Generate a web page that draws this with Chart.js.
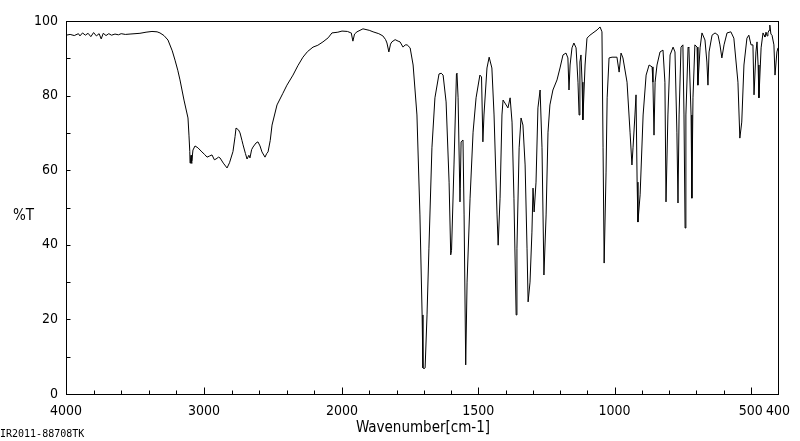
<!DOCTYPE html>
<html>
<head>
<meta charset="utf-8">
<script src="https://cdn.jsdelivr.net/npm/chart.js@4.4.1/dist/chart.umd.min.js"></script>
<style>
  html, body { margin: 0; padding: 0; background: #fff; }
  #irChart { display: block; }
</style>
</head>
<body>
<canvas id="irChart" width="800" height="441"></canvas>
<script>
// IR spectrum (%T vs wavenumber)
const wavenumbers = [
  4000, 3970, 3940, 3910, 3899, 3880, 3860, 3840, 3820, 3800, 3780, 3760, 3745, 3730, 3710, 3690, 3670, 3645, 3620, 3600,
  3570, 3536, 3500, 3464, 3420, 3377, 3340, 3319, 3290, 3261, 3230, 3210, 3190, 3174, 3145, 3116, 3109, 3103, 3101, 3097,
  3094, 3090, 3087, 3080, 3065, 3044, 3015, 2995, 2978, 2960, 2942, 2925, 2913, 2895, 2884, 2860, 2833, 2815, 2790, 2775,
  2768, 2750, 2739, 2725, 2717, 2700, 2688, 2675, 2667, 2655, 2645, 2623, 2609, 2594, 2580, 2558, 2545, 2536, 2520, 2507,
  2471, 2430, 2399, 2355, 2320, 2283, 2250, 2210, 2175, 2138, 2100, 2073, 2030, 2000, 1980, 1970, 1966, 1960, 1954, 1945,
  1923, 1900, 1886, 1865, 1850, 1840, 1835, 1828, 1822, 1817, 1805, 1794, 1787, 1776, 1768, 1761, 1750, 1739, 1725, 1714,
  1706, 1703, 1699, 1695, 1688, 1681, 1670, 1659, 1644, 1636, 1629, 1618, 1607, 1601, 1598, 1589, 1580, 1578, 1574, 1567,
  1566, 1563, 1556, 1552, 1546, 1541, 1530, 1519, 1508, 1494, 1488, 1483, 1479, 1468, 1460, 1450, 1442, 1431, 1427, 1420,
  1413, 1409, 1402, 1391, 1383, 1376, 1369, 1361, 1358, 1350, 1343, 1336, 1328, 1321, 1317, 1310, 1303, 1299, 1295, 1288,
  1281, 1273, 1266, 1259, 1251, 1244, 1237, 1226, 1211, 1200, 1189, 1178, 1171, 1167, 1163, 1156, 1149, 1141, 1134, 1130,
  1127, 1123, 1119, 1116, 1108, 1101, 1090, 1079, 1064, 1053, 1046, 1042, 1038, 1031, 1027, 1020, 1009, 991, 983, 976,
  969, 954, 943, 936, 932, 925, 921, 917, 914, 906, 895, 884, 873, 862, 859, 855, 851, 844, 833, 822,
  815, 811, 804, 796, 785, 778, 771, 767, 763, 756, 749, 745, 741, 738, 730, 727, 719, 716, 712, 705,
  697, 694, 686, 679, 668, 661, 657, 653, 642, 631, 620, 613, 606, 598, 587, 573, 562, 547, 540, 533,
  525, 514, 507, 499, 492, 488, 481, 477, 473, 470, 462, 455, 451, 448, 444, 440, 437, 433, 430, 426,
  422, 415, 411, 404, 400
]
const transmittance = [
  96.2, 96.4, 96.1, 96.6, 96.0, 96.8, 96.2, 96.7, 95.8, 96.9, 96.0, 96.6, 95.2, 96.7, 96.1, 96.6, 96.2, 96.5, 96.3, 96.6,
  96.4, 96.5, 96.6, 96.7, 97.0, 97.2, 97.1, 96.8, 96.1, 94.9, 92.0, 89.5, 86.8, 84.2, 78.8, 74.0, 69.4, 65.0, 61.9, 63.0,
  64.0, 61.8, 62.5, 65.4, 66.5, 66.0, 64.9, 64.2, 63.5, 63.8, 64.1, 62.8, 63.0, 63.5, 63.3, 61.9, 60.6, 62.0, 65.0, 69.0,
  71.3, 70.8, 70.0, 68.0, 66.8, 64.5, 63.0, 64.0, 63.3, 65.5, 66.2, 67.3, 67.6, 66.5, 64.9, 63.5, 64.5, 64.9, 68.0, 72.1,
  77.5, 80.5, 82.8, 85.5, 88.0, 90.3, 91.8, 93.0, 93.5, 94.4, 95.5, 96.8, 97.0, 97.3, 97.2, 96.9, 96.8, 94.6, 96.5, 97.1,
  97.9, 97.5, 97.1, 96.6, 96.0, 95.0, 94.1, 91.7, 93.8, 94.4, 95.0, 94.6, 94.4, 93.0, 93.6, 93.6, 92.8, 88.2, 74.8, 48.0,
  21.2, 7.0, 6.8, 7.0, 21.2, 39.1, 66.0, 79.4, 85.8, 86.0, 85.5, 78.3, 56.8, 37.3, 38.5, 61.4, 85.8, 86.0, 79.4, 51.5,
  55.0, 67.6, 68.1, 48.0, 7.8, 30.0, 52.5, 70.2, 79.4, 85.5, 85.0, 67.6, 74.8, 87.4, 90.3, 87.4, 74.8, 48.0, 39.9, 52.5,
  74.8, 78.8, 78.0, 76.7, 79.4, 72.9, 52.5, 21.2, 39.1, 66.0, 74.0, 72.1, 61.4, 39.1, 24.7, 30.0, 43.4, 55.2, 48.8, 56.8,
  76.7, 81.5, 66.0, 31.9, 48.0, 70.2, 77.5, 81.5, 84.2, 87.4, 90.9, 91.4, 90.1, 81.5, 88.2, 92.8, 94.1, 92.8, 83.6, 74.8,
  89.0, 90.9, 83.6, 73.5, 88.2, 95.4, 96.2, 96.8, 97.6, 98.4, 97.1, 66.0, 35.1, 59.5, 79.4, 90.1, 90.3, 90.3, 86.3, 91.4,
  90.1, 83.6, 70.2, 61.4, 66.0, 74.8, 80.2, 56.8, 46.1, 53.4, 74.8, 85.5, 88.2, 87.7, 83.6, 69.4, 83.6, 88.2, 91.7, 92.2,
  83.6, 51.5, 74.8, 90.9, 93.0, 91.7, 70.2, 51.2, 74.8, 93.0, 93.6, 74.8, 44.5, 74.8, 93.0, 92.8, 74.8, 52.5, 79.4, 93.6,
  93.0, 82.8, 92.8, 96.8, 94.9, 89.0, 82.8, 91.7, 96.2, 96.8, 96.2, 93.6, 90.1, 93.6, 96.8, 97.1, 95.4, 83.6, 68.6, 72.9,
  88.2, 95.4, 96.2, 93.6, 93.6, 80.2, 91.7, 94.4, 88.2, 79.4, 92.8, 96.8, 96.2, 95.7, 97.0, 96.0, 96.8, 97.5, 98.9, 96.5,
  96.2, 93.6, 85.5, 91.7, 92.8
]

// axis ticks (cm-1 and %T)
const xMajorTicks = [4000, 3000, 2000, 1500, 1000, 500, 400]
const xMinorTicks = [3800, 3600, 3400, 3200, 2800, 2600, 2400, 2200, 1900, 1800, 1700, 1600, 1400, 1300, 1200, 1100,
  900, 800, 700, 600]
const yMajorTicks = [0, 20, 40, 60, 80, 100]
const yMinorTicks = [10, 30, 50, 70, 90]

// the wavenumber axis is expanded 2x below 2000 cm-1
function pos(wn) {
  return wn >= 2000 ? (4000 - wn) * 0.138 : 276 + (2000 - wn) * 0.2725
}

const FONT = "'DejaVu Sans Condensed', 'Liberation Sans Narrow', sans-serif"
Chart.defaults.font.family = FONT
Chart.defaults.color = '#000'

const points = wavenumbers.map((wn, i) => ({ x: pos(wn), y: transmittance[i] }))

// frame, inward tick marks and the free-standing labels
const framePlugin = {
  id: 'irFrame',
  afterDraw(chart) {
    const { ctx, chartArea: a, scales } = chart
    const L = Math.round(a.left) + 0.5, R = Math.round(a.right) + 0.5
    const T = Math.round(a.top) + 0.5, B = Math.round(a.bottom) + 0.5
    ctx.save()
    ctx.strokeStyle = '#000'
    ctx.lineWidth = 1
    ctx.strokeRect(L, T, R - L, B - T)

    ctx.beginPath()
    xMajorTicks.concat(xMinorTicks).forEach(wn => {
      const px = Math.round(scales.x.getPixelForValue(pos(wn))) + 0.5
      const len = xMajorTicks.includes(wn) ? 7 : 4
      ctx.moveTo(px, B)
      ctx.lineTo(px, B - len)
    })
    yMajorTicks.concat(yMinorTicks).forEach(v => {
      const py = Math.round(scales.y.getPixelForValue(v)) + 0.5
      ctx.moveTo(L, py)
      ctx.lineTo(L + 4, py)
    })
    ctx.stroke()

    ctx.fillStyle = '#000'
    ctx.textBaseline = 'middle'
    ctx.font = '15px ' + FONT
    ctx.textAlign = 'left'
    ctx.fillText('%T', 13, 216)
    ctx.font = '15px ' + FONT
    ctx.textAlign = 'center'
    ctx.fillText('Wavenumber[cm-1]', 423, 428)
    ctx.font = '10px "DejaVu Sans Mono", monospace'
    ctx.textAlign = 'left'
    ctx.fillText('IR2011-88708TK', 0, 434)
    ctx.restore()
  }
}

new Chart(document.getElementById('irChart').getContext('2d'), {
  type: 'line',
  data: {
    datasets: [{
      label: '%T',
      data: points,
      borderColor: '#000',
      borderWidth: 1,
      pointRadius: 0,
      tension: 0,
      fill: false
    }]
  },
  options: {
    responsive: false,
    animation: false,
    layout: { padding: { top: 21, right: 22, left: 0, bottom: 0 } },
    plugins: { legend: { display: false }, tooltip: { enabled: false } },
    scales: {
      x: {
        type: 'linear',
        min: 0,
        max: pos(400),
        grid: { display: false, drawTicks: false },
        border: { display: false },
        afterFit: s => { s.height = 47 },
        afterBuildTicks: s => { s.ticks = xMajorTicks.map(wn => ({ value: pos(wn) })) },
        ticks: {
          autoSkip: false,
          maxRotation: 0,
          padding: 9,
          font: { size: 14 },
          callback: (v, i) => String(xMajorTicks[i])
        }
      },
      y: {
        min: 0,
        max: 100,
        grid: { display: false, drawTicks: false },
        border: { display: false },
        afterFit: s => { s.width = 66 },
        afterBuildTicks: s => { s.ticks = yMajorTicks.map(v => ({ value: v })) },
        ticks: { padding: 8, font: { size: 14 } }
      }
    }
  },
  plugins: [framePlugin]
})
</script>
</body>
</html>
